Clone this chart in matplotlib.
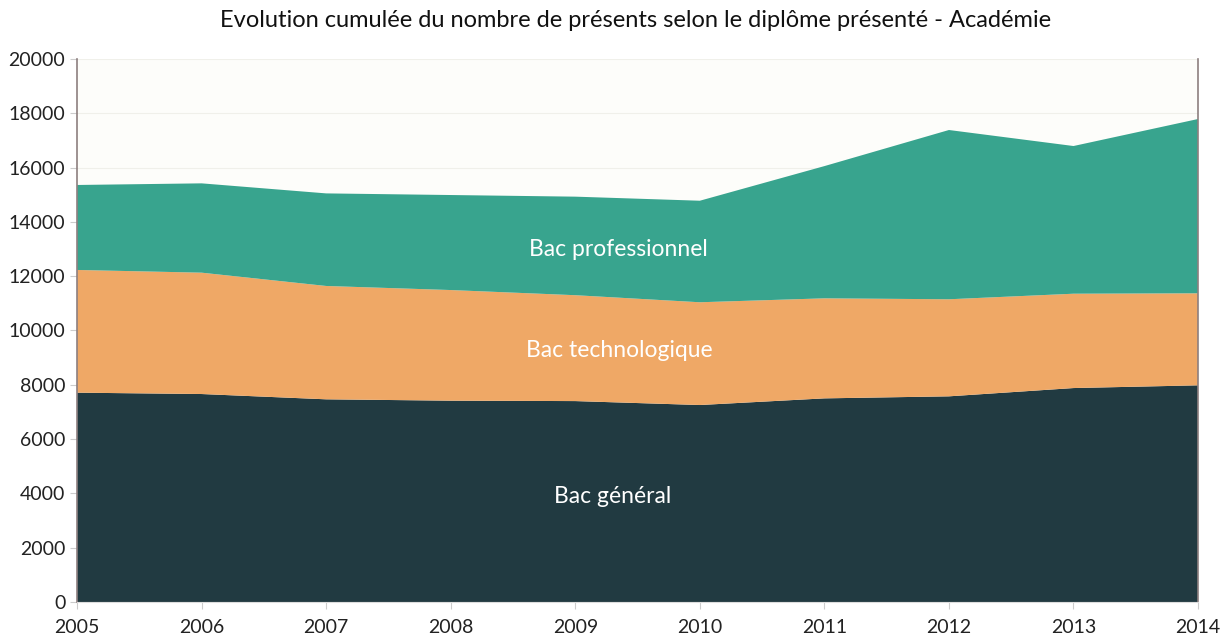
import matplotlib
matplotlib.use("Agg")
import matplotlib.pyplot as plt

years = [2005, 2006, 2007, 2008, 2009, 2010, 2011, 2012, 2013, 2014]
bac_general = [7710, 7660, 7465, 7415, 7400, 7255, 7500, 7575, 7880, 7980]
bac_techno = [4520, 4470, 4175, 4075, 3900, 3785, 3685, 3575, 3475, 3390]
bac_pro = [3130, 3290, 3410, 3500, 3630, 3740, 4870, 6235, 5440, 6420]
series_names = ["Bac général", "Bac technologique", "Bac professionnel"]
yticks = list(range(0, 20001, 2000))

colors = ["#213a41", "#efa866", "#38a48e"]

plt.rcParams['font.family'] = ['Lato', 'DejaVu Sans']

fig = plt.figure(figsize=(12.27, 6.4), dpi=100)
fig.patch.set_facecolor("white")
ax = fig.add_axes([0.0628, 0.0594, 0.9136, 0.8484])
ax.set_facecolor("#fdfdfa")

ax.stackplot(years, bac_general, bac_techno, bac_pro, colors=colors, linewidth=0, zorder=2)

ax.set_xlim(2005, 2014)
ax.set_ylim(0, 20000)
ax.set_yticks(yticks)
ax.set_xticks(years)
ax.tick_params(axis='both', labelsize=14, color="#cccccc", length=5, labelcolor="#222222")
ax.tick_params(axis='x', pad=7)
ax.grid(axis='y', color="#f0f0ea", linewidth=0.8, zorder=1)

for side in ['left', 'right']:
    ax.spines[side].set_color("#8d7f7f")
    ax.spines[side].set_linewidth(1.2)
ax.spines['top'].set_visible(False)
ax.spines['bottom'].set_color("#dddddd")

# labels inside the layers
ax.text(2009.3, 3867, series_names[0], color="white", fontsize=16.5, ha='center', va='center', zorder=3)
ax.text(2009.35, 9281, series_names[1], color="white", fontsize=16.5, ha='center', va='center', zorder=3)
ax.text(2009.35, 12965, series_names[2], color="white", fontsize=16.5, ha='center', va='center', zorder=3)

fig.suptitle("Evolution cumulée du nombre de présents selon le diplôme présenté - Académie",
             fontsize=17, x=0.518, y=0.985, va='top', color="#111111")

fig.savefig("out.png", dpi=100)
